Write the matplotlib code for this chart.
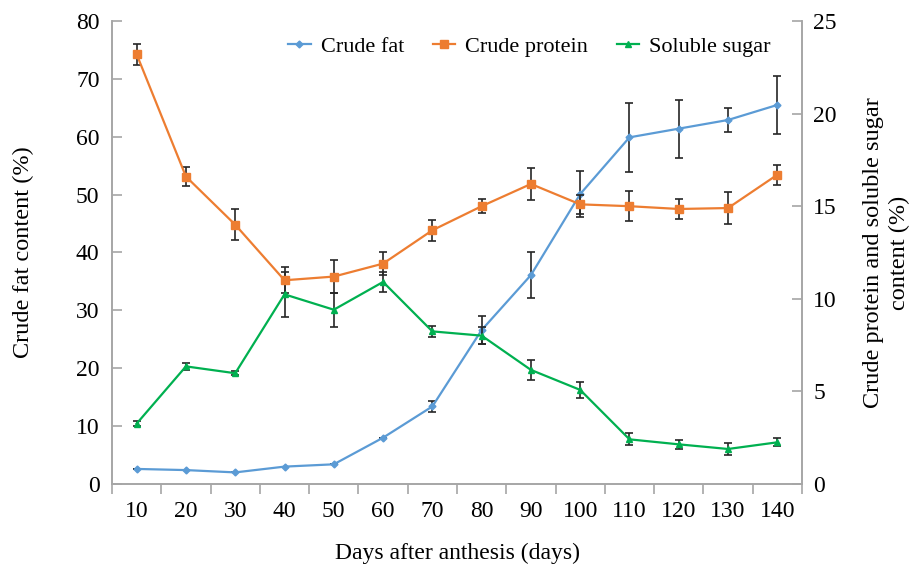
import matplotlib.pyplot as plt
from matplotlib.lines import Line2D
import numpy as np

plt.rcParams['font.family'] = ['Liberation Serif', 'DejaVu Serif']

days = ['10', '20', '30', '40', '50', '60', '70', '80', '90', '100', '110', '120', '130', '140']

fat = [2.6, 2.4, 2.0, 3.0, 3.4, 8.0, 13.4, 26.6, 36.1, 50.1, 59.9, 61.4, 62.9, 65.5]
fat_err = [0, 0, 0, 0, 0, 0, 1.0, 2.4, 4.0, 3.9, 6.0, 5.0, 2.0, 5.0]

protein = [23.2, 16.6, 14.0, 11.0, 11.2, 11.9, 13.7, 15.0, 16.2, 15.1, 15.0, 14.85, 14.9, 16.7]
protein_err = [0.57, 0.5, 0.83, 0.7, 0.88, 0.63, 0.58, 0.38, 0.85, 0.5, 0.81, 0.55, 0.88, 0.55]

sugar = [3.26, 6.35, 5.98, 10.24, 9.41, 10.91, 8.24, 8.01, 6.16, 5.08, 2.41, 2.14, 1.89, 2.25]
sugar_err = [0.15, 0.2, 0.1, 1.2, 0.92, 0.52, 0.29, 0.46, 0.54, 0.43, 0.33, 0.25, 0.34, 0.22]

blue = '#5B9BD5'
orange = '#ED7D31'
green = '#00B050'
grey = '#A6A6A6'

x = np.arange(len(days))

fig = plt.figure(figsize=(9.13, 5.65), dpi=100)
ax = fig.add_axes([0.1227, 0.1434, 0.7557, 0.8194])
ax2 = ax.twinx()

ebkw = dict(ecolor='#262626', elinewidth=1.2, capsize=3, capthick=1.2)
ax.errorbar(x, fat, yerr=fat_err, color=blue, marker='D', markersize=3.5,
            linewidth=1.6, **ebkw)
ax2.errorbar(x, protein, yerr=protein_err, color=orange, marker='s', markersize=5.5,
             linewidth=1.6, **ebkw)
ax2.errorbar(x, sugar, yerr=sugar_err, color=green, marker='^', markersize=5,
             linewidth=1.6, **ebkw)

ax.set_xlim(-0.5, len(days) - 0.5)
ax.set_ylim(0, 80)
ax2.set_ylim(0, 25)
ax.set_yticks(np.arange(0, 81, 10))
ax2.set_yticks(np.arange(0, 26, 5))
ax.set_xticks(x)
ax.set_xticklabels(days)
ax.set_xticks(np.arange(-0.5, len(days), 1), minor=True)

for a in (ax, ax2):
    a.spines['top'].set_visible(False)
    for s in ('left', 'right', 'bottom'):
        a.spines[s].set_color(grey)
        a.spines[s].set_linewidth(1.2)

ax.tick_params(axis='x', which='major', length=0, labelsize=17, pad=12, colors='black')
ax.tick_params(axis='x', which='minor', length=7, width=1.2, color=grey, direction='out')
ax.tick_params(axis='y', direction='in', length=7, width=1.2, color=grey, labelsize=17, pad=9)
ax2.tick_params(axis='y', direction='in', length=7, width=1.2, color=grey, labelsize=17, pad=8)

ax.set_xlabel('Days after anthesis (days)', fontsize=17, labelpad=15)
ax.set_ylabel('Crude fat content (%)', fontsize=17.5, labelpad=30)
ax2.set_ylabel('Crude protein and soluble sugar\ncontent (%)', fontsize=17.5,
               labelpad=19, linespacing=1.3)

handles = [
    Line2D([], [], color=blue, marker='D', markersize=3.5, linewidth=1.6),
    Line2D([], [], color=orange, marker='s', markersize=5.5, linewidth=1.6),
    Line2D([], [], color=green, marker='^', markersize=5, linewidth=1.6),
]
labels = ['Crude fat', 'Crude protein', 'Soluble sugar']
ax.legend(handles, labels, loc='upper center',
          bbox_to_anchor=(0.605, 1.01), ncol=3, frameon=False, fontsize=16,
          handlelength=1.0, handletextpad=0.45, columnspacing=1.3)

fig.savefig('out.png', dpi=100)
